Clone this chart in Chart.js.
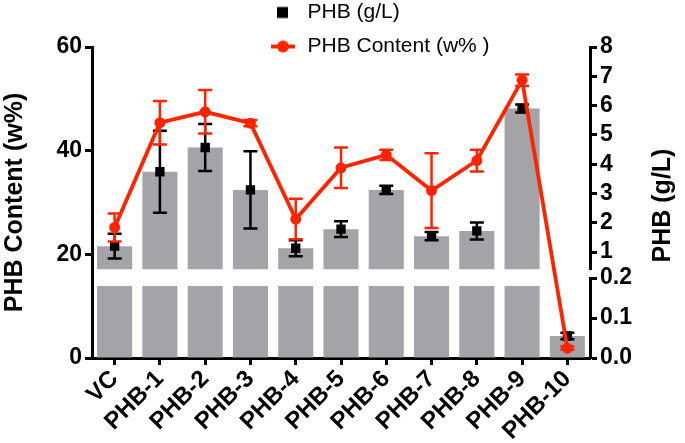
<!DOCTYPE html>
<html>
<head>
<meta charset="utf-8">
<script src="https://cdn.jsdelivr.net/npm/chart.js@4.4.1/dist/chart.umd.min.js"></script>
<style>
  html, body { margin: 0; padding: 0; background: #ffffff; }
  canvas { display: block; }
</style>
</head>
<body>
<canvas id="chart" width="685" height="443"></canvas>
<script>
// ---------------- data ----------------
const categories = ['VC', 'PHB-1', 'PHB-2', 'PHB-3', 'PHB-4', 'PHB-5', 'PHB-6', 'PHB-7', 'PHB-8', 'PHB-9', 'PHB-10'];
const phbContent = [25.2, 45.4, 47.5, 45.3, 26.8, 36.7, 39.2, 32.3, 38.1, 53.6, 1.9];      // w%
const phbContentErr = [2.7, 4.2, 4.2, 0.6, 3.9, 3.9, 1.0, 7.2, 2.1, 1.1, 0.3];
const phbTiter = [1.2, 3.74, 4.57, 3.12, 1.13, 1.78, 3.12, 1.54, 1.72, 5.9, 0.055];       // g/L
const phbTiterErr = [0.42, 1.4, 0.8, 1.32, 0.27, 0.27, 0.14, 0.14, 0.29, 0.14, 0.008];
const leftTicks = [0, 20, 40, 60];
const rightUpperTicks = [1, 2, 3, 4, 5, 6, 7, 8];
const rightLowerTicks = [0, 0.1, 0.2];
const seriesLabels = ['PHB (g/L)', 'PHB Content (w% )'];
const axisTitles = ['PHB Content (w%)', 'PHB (g/L)'];

// broken right axis segments
const upperMin = 0.4, upperMax = 8;
const lowerMin = 0, lowerMax = 0.2;
const lowerBarTop = 0.18;

const RED = 'rgb(255,36,0)';
const GREY = 'rgb(164,164,168)';
const FONT = "'Liberation Sans', Arial, Helvetica, sans-serif";
Chart.defaults.font.family = FONT;
Chart.defaults.color = '#000';

// derived series for the broken axis
const upperBars = phbTiter.map(v => v > upperMin ? [upperMin, v] : null);
const lowerBars = phbTiter.map(v => [lowerMin, Math.min(v, lowerBarTop)]);
const upperPts = phbTiter.map(v => v > upperMin ? v : null);
const lowerPts = phbTiter.map(v => v <= lowerMax ? v : null);
const upperErr = phbTiterErr.map((e, i) => phbTiter[i] > upperMin ? e : null);
const lowerErr = phbTiterErr.map((e, i) => phbTiter[i] <= lowerMax ? e : null);

// legend markers
function makeMarker(kind) {
  const c = document.createElement('canvas');
  c.width = 28; c.height = 14;
  const g = c.getContext('2d');
  if (kind === 'square') {
    g.fillStyle = '#000';
    g.fillRect(8, 1.5, 11, 11);
  } else {
    g.strokeStyle = RED; g.lineWidth = 4;
    g.beginPath(); g.moveTo(2, 7); g.lineTo(26, 7); g.stroke();
    g.fillStyle = RED;
    g.beginPath(); g.arc(14, 7, 6, 0, Math.PI * 2); g.fill();
  }
  return c;
}
const squareMarker = makeMarker('square');
const lineMarker = makeMarker('line');

// ---------------- plugins ----------------
const errorBars = {
  id: 'errorBars',
  beforeDatasetDraw(chart, args) {
    const ds = chart.data.datasets[args.index];
    if (!ds.errors) return;
    const meta = args.meta;
    const ys = chart.scales[meta.yAxisID];
    const ctx = chart.ctx;
    ctx.save();
    ctx.strokeStyle = ds.errorColor;
    ctx.lineWidth = ds.errorWidth;
    const cap = ds.capWidth / 2;
    meta.data.forEach((pt, i) => {
      const v = ds.data[i], e = ds.errors[i];
      if (v == null || e == null || pt.skip) return;
      const x = pt.x;
      const y1 = ys.getPixelForValue(v + e);
      const y2 = ys.getPixelForValue(v - e);
      ctx.beginPath();
      ctx.moveTo(x, y1); ctx.lineTo(x, y2);
      ctx.moveTo(x - cap, y1); ctx.lineTo(x + cap, y1);
      ctx.moveTo(x - cap, y2); ctx.lineTo(x + cap, y2);
      ctx.stroke();
    });
    ctx.restore();
  }
};

const placeLegend = {
  id: 'placeLegend',
  afterLayout(chart) {
    const lg = chart.legend;
    if (!lg) return;
    const w = lg.width, h = lg.height;
    lg.left = 256; lg.top = -11;
    lg.right = lg.left + w; lg.bottom = lg.top + h;
  }
};

const rightTitle = {
  id: 'rightTitle',
  afterDraw(chart) {
    const ctx = chart.ctx;
    const area = chart.chartArea;
    ctx.save();
    ctx.translate(663, (area.top + area.bottom) / 2 + 3);
    ctx.rotate(-Math.PI / 2);
    ctx.font = 'bold 25px ' + FONT;
    ctx.fillStyle = '#000';
    ctx.textAlign = 'center';
    ctx.textBaseline = 'middle';
    ctx.fillText(axisTitles[1], 0, 0);
    ctx.restore();
  }
};

// ---------------- axes helpers ----------------
const tickFont = { size: 23, weight: 'bold' };
const xTickFont = { size: 24, weight: 'bold' };
const axisGrid = { drawOnChartArea: false, tickLength: 7, tickWidth: 3, color: '#000' };
const axisBorder = { display: true, color: '#000', width: 3 };
const RIGHT_W = 95;

new Chart(document.getElementById('chart'), {
  type: 'bar',
  data: {
    labels: categories,
    datasets: [
      {
        type: 'line', label: seriesLabels[1], data: phbContent, yAxisID: 'y', order: 0,
        borderColor: RED, backgroundColor: RED, borderWidth: 3.8,
        pointRadius: 5.5, pointBackgroundColor: RED, pointBorderWidth: 0, tension: 0,
        errors: phbContentErr, errorColor: RED, errorWidth: 2.5, capWidth: 14
      },
      {
        type: 'line', label: seriesLabels[0], data: upperPts, yAxisID: 'yTop', order: 1,
        showLine: false, pointStyle: 'rect', pointRadius: 6.6, pointBorderWidth: 0,
        backgroundColor: '#000', borderColor: '#000',
        errors: upperErr, errorColor: '#000', errorWidth: 2.5, capWidth: 14
      },
      {
        type: 'line', label: seriesLabels[0], data: lowerPts, yAxisID: 'yBot', order: 1,
        showLine: false, pointStyle: 'rect', pointRadius: 6.6, pointBorderWidth: 0,
        backgroundColor: '#000', borderColor: '#000',
        errors: lowerErr, errorColor: '#000', errorWidth: 2.5, capWidth: 14
      },
      {
        type: 'bar', label: 'bars-upper', data: upperBars, yAxisID: 'yTop', order: 2,
        backgroundColor: GREY, borderWidth: 0, grouped: false,
        barPercentage: 0.775, categoryPercentage: 1
      },
      {
        type: 'bar', label: 'bars-lower', data: lowerBars, yAxisID: 'yBot', order: 2,
        backgroundColor: GREY, borderWidth: 0, grouped: false,
        barPercentage: 0.775, categoryPercentage: 1
      }
    ]
  },
  options: {
    responsive: false,
    animation: false,
    devicePixelRatio: 1,
    layout: { padding: { top: 47, left: 0, right: 0, bottom: 0 }, autoPadding: false },
    plugins: {
      tooltip: { enabled: false },
      title: { display: false },
      legend: {
        display: true,
        position: 'chartArea',
        align: 'start',
        labels: {
          usePointStyle: true,
          pointStyleWidth: 28,
          padding: 13,
          color: '#000',
          font: { size: 21, weight: 'normal' },
          generateLabels(chart) {
            const ds = chart.data.datasets;
            return [
              { text: ds[1].label, pointStyle: squareMarker, fillStyle: '#000', strokeStyle: '#000', lineWidth: 0, hidden: false, datasetIndex: 1, fontColor: '#000' },
              { text: ds[0].label, pointStyle: lineMarker, fillStyle: RED, strokeStyle: RED, lineWidth: 0, hidden: false, datasetIndex: 0, fontColor: '#000' }
            ];
          }
        }
      }
    },
    scales: {
      x: {
        type: 'category',
        offset: true,
        grid: Object.assign({ offset: false }, axisGrid),
        border: axisBorder,
        ticks: { font: xTickFont, color: '#000', minRotation: 45, maxRotation: 45, autoSkip: false, padding: 0 },
        afterFit(s) { s.height = 85; }
      },
      y: {
        position: 'left',
        min: 0, max: 60,
        afterBuildTicks(s) { s.ticks = leftTicks.map(v => ({ value: v })); },
        grid: axisGrid,
        border: axisBorder,
        ticks: { font: tickFont, color: '#000', padding: 3, autoSkip: false },
        title: { display: true, text: axisTitles[0], color: '#000', font: { size: 25, weight: 'bold' }, padding: { top: 0, bottom: 0 } },
        afterFit(s) { s.width = 92; }
      },
      yTop: {
        position: 'right', stack: 'right', stackWeight: 222.6,
        min: upperMin, max: upperMax,
        afterBuildTicks(s) { s.ticks = rightUpperTicks.map(v => ({ value: v })); },
        grid: axisGrid,
        border: axisBorder,
        ticks: { font: tickFont, color: '#000', padding: 3, autoSkip: false },
        afterFit(s) { s.width = RIGHT_W; }
      },
      yGap: {
        position: 'right', stack: 'right', stackWeight: 8.4,
        min: 0, max: 1,
        grid: { display: false },
        border: { display: false },
        ticks: { display: false },
        afterFit(s) { s.width = RIGHT_W; }
      },
      yBot: {
        position: 'right', stack: 'right', stackWeight: 80,
        min: lowerMin, max: lowerMax,
        afterBuildTicks(s) { s.ticks = rightLowerTicks.map(v => ({ value: v })); },
        grid: axisGrid,
        border: axisBorder,
        ticks: { font: tickFont, color: '#000', padding: 3, autoSkip: false, callback: v => Number(v).toFixed(1) },
        afterFit(s) { s.width = RIGHT_W; }
      }
    }
  },
  plugins: [errorBars, placeLegend, rightTitle]
});
</script>
</body>
</html>
